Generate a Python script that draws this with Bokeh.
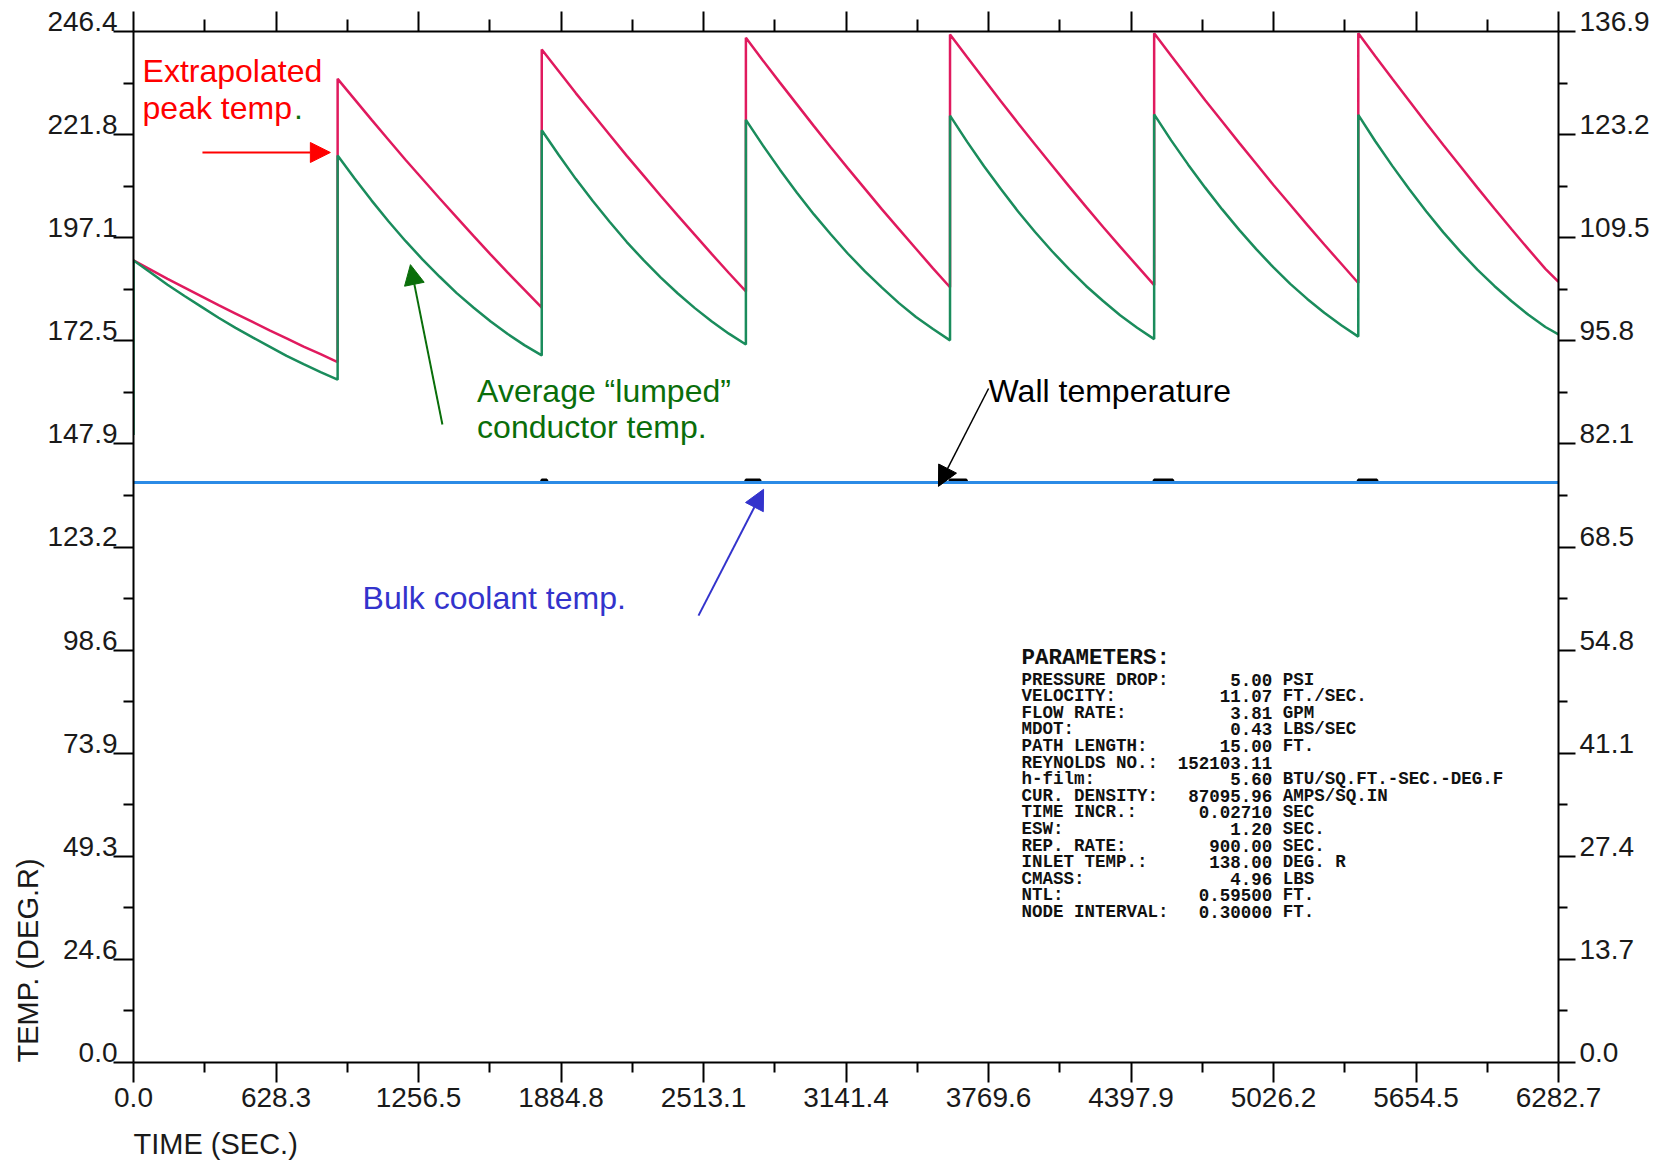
from bokeh.plotting import figure
from bokeh.models import Range1d, LinearAxis, FixedTicker, Label, Arrow, NormalHead, Title
from bokeh.embed import file_html
from bokeh.resources import INLINE

# ---------------- axes data ----------------
x_tick_step = 628.274
x_tick_labels = ["0.0", "628.3", "1256.5", "1884.8", "2513.1", "3141.4",
                 "3769.6", "4397.9", "5026.2", "5654.5", "6282.7"]
yl_tick_step = 24.642
yl_tick_labels = ["0.0", "24.6", "49.3", "73.9", "98.6", "123.2",
                  "147.9", "172.5", "197.1", "221.8", "246.4"]
yr_tick_step = 13.69
yr_tick_labels = ["0.0", "13.7", "27.4", "41.1", "54.8", "68.5",
                  "82.1", "95.8", "109.5", "123.2", "136.9"]

# ---------------- series data ----------------
cycle_starts = [0, 900, 1800, 2700, 3600, 4500, 5400]
sample_offsets = [0, 75, 150, 225, 300, 375, 450, 525, 600, 675, 750, 825, 900]
time_end = 6282.7

peak_temp = [
    [191.7, 189.5, 187.3, 185.2, 183.1, 181.0, 179.0, 177.0, 175.0, 173.1, 171.1, 169.3, 167.4],
    [235.1, 230.2, 225.3, 220.5, 215.7, 211.1, 206.5, 202.0, 197.5, 193.1, 188.8, 184.6, 180.4],
    [242.1, 236.9, 231.7, 226.7, 221.7, 216.7, 211.9, 207.1, 202.4, 197.8, 193.2, 188.7, 184.3],
    [244.9, 239.5, 234.2, 229.0, 223.8, 218.7, 213.7, 208.8, 203.9, 199.2, 194.5, 189.8, 185.3],
    [245.7, 240.3, 235.0, 229.7, 224.5, 219.4, 214.4, 209.4, 204.5, 199.7, 195.0, 190.4, 185.8],
    [246.0, 240.6, 235.3, 230.0, 224.9, 219.8, 214.8, 209.8, 205.0, 200.2, 195.5, 190.9, 186.3],
    [246.0, 240.5, 235.1, 229.8, 224.5, 219.3, 214.2, 209.1, 204.1, 199.2, 194.4, 189.7, 186.6],
]
avg_start = 150.0
avg_temp = [
    [191.7, 188.8, 185.9, 183.2, 180.6, 178.0, 175.6, 173.3, 171.1, 168.9, 166.9, 165.0, 163.2],
    [216.8, 211.3, 206.0, 201.0, 196.3, 191.9, 187.8, 183.9, 180.4, 177.1, 174.1, 171.4, 169.0],
    [222.8, 216.9, 211.2, 205.9, 200.9, 196.1, 191.7, 187.6, 183.8, 180.3, 177.1, 174.2, 171.6],
    [225.3, 219.2, 213.4, 207.9, 202.7, 197.9, 193.3, 189.1, 185.2, 181.5, 178.2, 175.3, 172.6],
    [226.3, 220.1, 214.2, 208.7, 203.4, 198.5, 193.9, 189.6, 185.6, 182.0, 178.6, 175.6, 172.9],
    [226.6, 220.4, 214.6, 209.1, 203.9, 199.0, 194.4, 190.1, 186.1, 182.5, 179.2, 176.2, 173.5],
    [226.5, 220.2, 214.3, 208.7, 203.4, 198.4, 193.8, 189.5, 185.6, 182.0, 178.7, 175.8, 174.0],
]
bulk_t = [0, 6282.7]
bulk_v = [138.6, 138.6]
wall_t = [0, 1800, 1800, 1822, 1822, 2700, 2700, 2762, 2762, 3600, 3600, 3672, 3672,
          4500, 4500, 4582, 4582, 5400, 5400, 5482, 5482, 6282.7]
wall_v = [138.6, 138.6, 139.2, 139.2, 138.6, 138.6, 139.2, 139.2, 138.6, 138.6, 139.2, 139.2, 138.6,
          138.6, 139.2, 139.2, 138.6, 138.6, 139.2, 139.2, 138.6, 138.6]

param_names = ["PRESSURE DROP:", "VELOCITY:", "FLOW RATE:", "MDOT:", "PATH LENGTH:",
               "REYNOLDS NO.:", "h-film:", "CUR. DENSITY:", "TIME INCR.:", "ESW:",
               "REP. RATE:", "INLET TEMP.:", "CMASS:", "NTL:", "NODE INTERVAL:"]
param_values = ["5.00", "11.07", "3.81", "0.43", "15.00", "152103.11", "5.60", "87095.96",
                "0.02710", "1.20", "900.00", "138.00", "4.96", "0.59500", "0.30000"]
param_units = ["PSI", "FT./SEC.", "GPM", "LBS/SEC", "FT.", "", "BTU/SQ.FT.-SEC.-DEG.F",
               "AMPS/SQ.IN", "SEC", "SEC.", "SEC.", "DEG. R", "LBS", "FT.", "FT."]

# ---------------- build ----------------
x_ticks = [i * x_tick_step for i in range(len(x_tick_labels))]
x_minor = [(i + 0.5) * x_tick_step for i in range(len(x_tick_labels) - 1)]
yl_ticks = [i * yl_tick_step for i in range(len(yl_tick_labels))]
yl_minor = [(i + 0.5) * yl_tick_step for i in range(len(yl_tick_labels) - 1)]
yr_ticks = [i * yr_tick_step for i in range(len(yr_tick_labels))]
yr_minor = [(i + 0.5) * yr_tick_step for i in range(len(yr_tick_labels) - 1)]

red_t, red_v, grn_t, grn_v = [], [], [0], [avg_start]
for k, s in enumerate(cycle_starts):
    ts = [s + o for o in sample_offsets]
    if k == len(cycle_starts) - 1:
        ts[-1] = time_end
    red_t += ts
    red_v += peak_temp[k]
    grn_t += ts
    grn_v += avg_temp[k]

p = figure(frame_width=1425, frame_height=1031,
           x_range=Range1d(0, x_ticks[-1]), y_range=Range1d(0, yl_ticks[-1]),
           x_axis_location=None, y_axis_location=None,
           output_backend="svg", toolbar_location=None,
           min_border_left=133, min_border_right=100, min_border_top=31, min_border_bottom=96)
p.outline_line_color = None
p.xgrid.visible = False
p.ygrid.visible = False
p.extra_y_ranges = {"kelvin": Range1d(0, yr_ticks[-1])}

FONT = "Liberation Sans"
TICK_FS = "28px"
AXC = "#1a1a1a"


def style(ax, major_out, minor_out):
    ax.axis_line_width = 2
    ax.axis_line_color = "black"
    ax.major_tick_line_width = 2
    ax.minor_tick_line_width = 2
    ax.major_tick_line_color = "black"
    ax.minor_tick_line_color = "black"
    ax.major_tick_in = 0
    ax.minor_tick_in = 0
    ax.major_tick_out = major_out
    ax.minor_tick_out = minor_out
    ax.major_label_text_font = FONT
    ax.major_label_text_font_size = TICK_FS
    ax.major_label_text_color = AXC


xb = LinearAxis(ticker=FixedTicker(ticks=x_ticks, minor_ticks=x_minor),
                major_label_overrides=dict(zip(x_ticks, x_tick_labels)))
style(xb, 20, 10)
xb.major_label_standoff = 5
p.add_layout(xb, "below")

xt = LinearAxis(ticker=FixedTicker(ticks=x_ticks, minor_ticks=x_minor),
                major_label_overrides={t: "" for t in x_ticks})
style(xt, 20, 12)
xt.major_label_text_font_size = "0px"
xt.major_label_standoff = 0
p.add_layout(xt, "above")

# labels sit just above their tick in the reference: a trailing empty line lifts them
yl = LinearAxis(ticker=FixedTicker(ticks=yl_ticks, minor_ticks=yl_minor),
                major_label_overrides={t: s + "\n" for t, s in zip(yl_ticks, yl_tick_labels)})
style(yl, 20, 10)
yl.major_label_text_line_height = 0.65
yl.major_label_standoff = -4
p.add_layout(yl, "left")

yr = LinearAxis(y_range_name="kelvin",
                ticker=FixedTicker(ticks=yr_ticks, minor_ticks=yr_minor),
                major_label_overrides={t: s + "\n" for t, s in zip(yr_ticks, yr_tick_labels)})
style(yr, 17, 9)
yr.major_label_text_line_height = 0.65
yr.major_label_standoff = 4
p.add_layout(yr, "right")

p.add_layout(Title(text="TIME (SEC.)", align="left", text_font=FONT, text_font_size="29px",
                   text_font_style="normal", text_color=AXC, standoff=33), "below")
p.add_layout(Title(text="TEMP. (DEG.R)", align="left", text_font=FONT, text_font_size="29px",
                   text_font_style="normal", text_color=AXC, standoff=2), "left")

# ---------------- lines ----------------
p.line(wall_t, wall_v, line_color="black", line_width=3)
p.line(bulk_t, bulk_v, line_color="#2b8be6", line_width=3)
p.line(red_t, red_v, line_color="#e01a5e", line_width=2.5)
p.line(grn_t, grn_v, line_color="#1a8c5c", line_width=2.5)

# ---------------- annotations ----------------
AF = "32px"
RED, GRN, BLU = "#ff0000", "#0a6e0a", "#3333cc"


def lab(x, y, text, color, size=AF, font=FONT, style="normal", align="left"):
    p.add_layout(Label(x=x, y=y, text=text, text_color=color, text_font=font,
                       text_font_size=size, text_font_style=style,
                       text_baseline="middle", text_align=align))


def arrow(x0, y0, x1, y1, color, w=2):
    p.add_layout(Arrow(end=NormalHead(size=20, fill_color=color, line_color=color),
                       x_start=x0, y_start=y0, x_end=x1, y_end=y1,
                       line_color=color, line_width=w))


lab(40, 236.9, "Extrapolated", RED)
lab(40, 228.1, "peak temp", RED)
lab(708, 228.1, ".", GRN)
arrow(304, 217.5, 868, 217.5, RED)

lab(1515, 160.6, "Average \u201clumped\u201d", GRN)
lab(1515, 152.0, "conductor temp.", GRN)
arrow(1362, 152.5, 1221, 190.7, GRN)

lab(3770, 160.6, "Wall temperature", "black")
arrow(3770, 161.1, 3549, 137.7, "black", 1.5)

lab(1010, 111.0, "Bulk coolant temp.", BLU)
arrow(2491, 106.8, 2778, 137.0, BLU)

# parameters block
px0, px_val, px_unit = 3915, 5021, 5067
p_top, p_step = 91.5, 3.968
MONO = "Liberation Mono"
lab(px0, 96.6, "PARAMETERS:", "#111111", size="22.5px", font=MONO, style="bold")
for i, (n, v, u) in enumerate(zip(param_names, param_values, param_units)):
    yy = p_top - i * p_step
    lab(px0, yy, n, "#111111", size="17.5px", font=MONO, style="bold")
    lab(px_val, yy, v, "#111111", size="17.5px", font=MONO, style="bold", align="right")
    if u:
        lab(px_unit, yy, u, "#111111", size="17.5px", font=MONO, style="bold")

open("out.html", "w").write(file_html(p, INLINE))
